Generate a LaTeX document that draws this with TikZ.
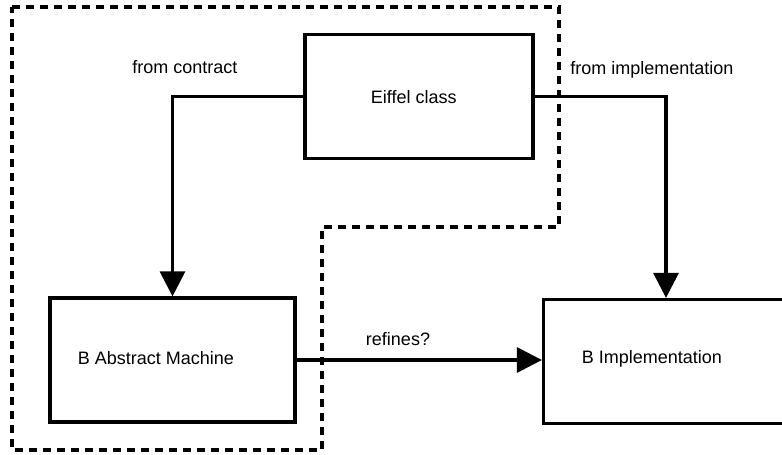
\documentclass[tikz,border=0pt]{standalone}
\usepackage{fontspec}
\setmainfont{Liberation Sans}
\usetikzlibrary{arrows.meta}

\begin{document}
\begin{tikzpicture}[x=1pt, y=-1pt, line width=3.2pt,
    every node/.append style={font=\fontsize{18}{22}\selectfont},
    box/.style={draw, rectangle, inner sep=0pt, minimum height=124pt},
    conn/.style={-{Triangle[length=25pt,width=25pt]}}]
    \useasboundingbox (0,0) rectangle (782,455);
    \coordinate (C1) at (12, 7);
    \coordinate (C2) at (559, 7);
    \coordinate (C3) at (559, 227);
    \coordinate (C4) at (322, 227);
    \coordinate (C5) at (322, 450);
    \coordinate (C6) at (12, 450);
    \draw[dash pattern=on 8pt off 6pt] (C1) -- (C2) -- (C3) -- (C4) -- (C5) -- (C6) -- cycle;
    % the three boxes
    \node[box, minimum width=228pt] (eiffel) at (419, 96.5) {};
    \node[box, minimum width=245pt] (abs) at (172.5, 360) {};
    \node[box, minimum width=245pt] (impl) at (666, 361.5) {};
    \node[anchor=west] (eiffel-t) at (366, 97) {Eiffel class};
    \node[anchor=west] (abs-t) at (73, 358) {B Abstract Machine};
    \node[anchor=west] (impl-t) at (577, 359) {B Implementation};
    % arrows
    \draw[conn] (eiffel.west) -| (abs.north);
    \draw[conn] (eiffel.east) -| (impl.north);
    \draw[conn] (abs.east) -- (abs.east -| impl.west);
    \node (contract) at (185, 67) {from contract};
    \node (implementation) at (652, 70) {from implementation};
    \node (refines) at (398, 339) {refines?};
  \end{tikzpicture}
\end{document}
